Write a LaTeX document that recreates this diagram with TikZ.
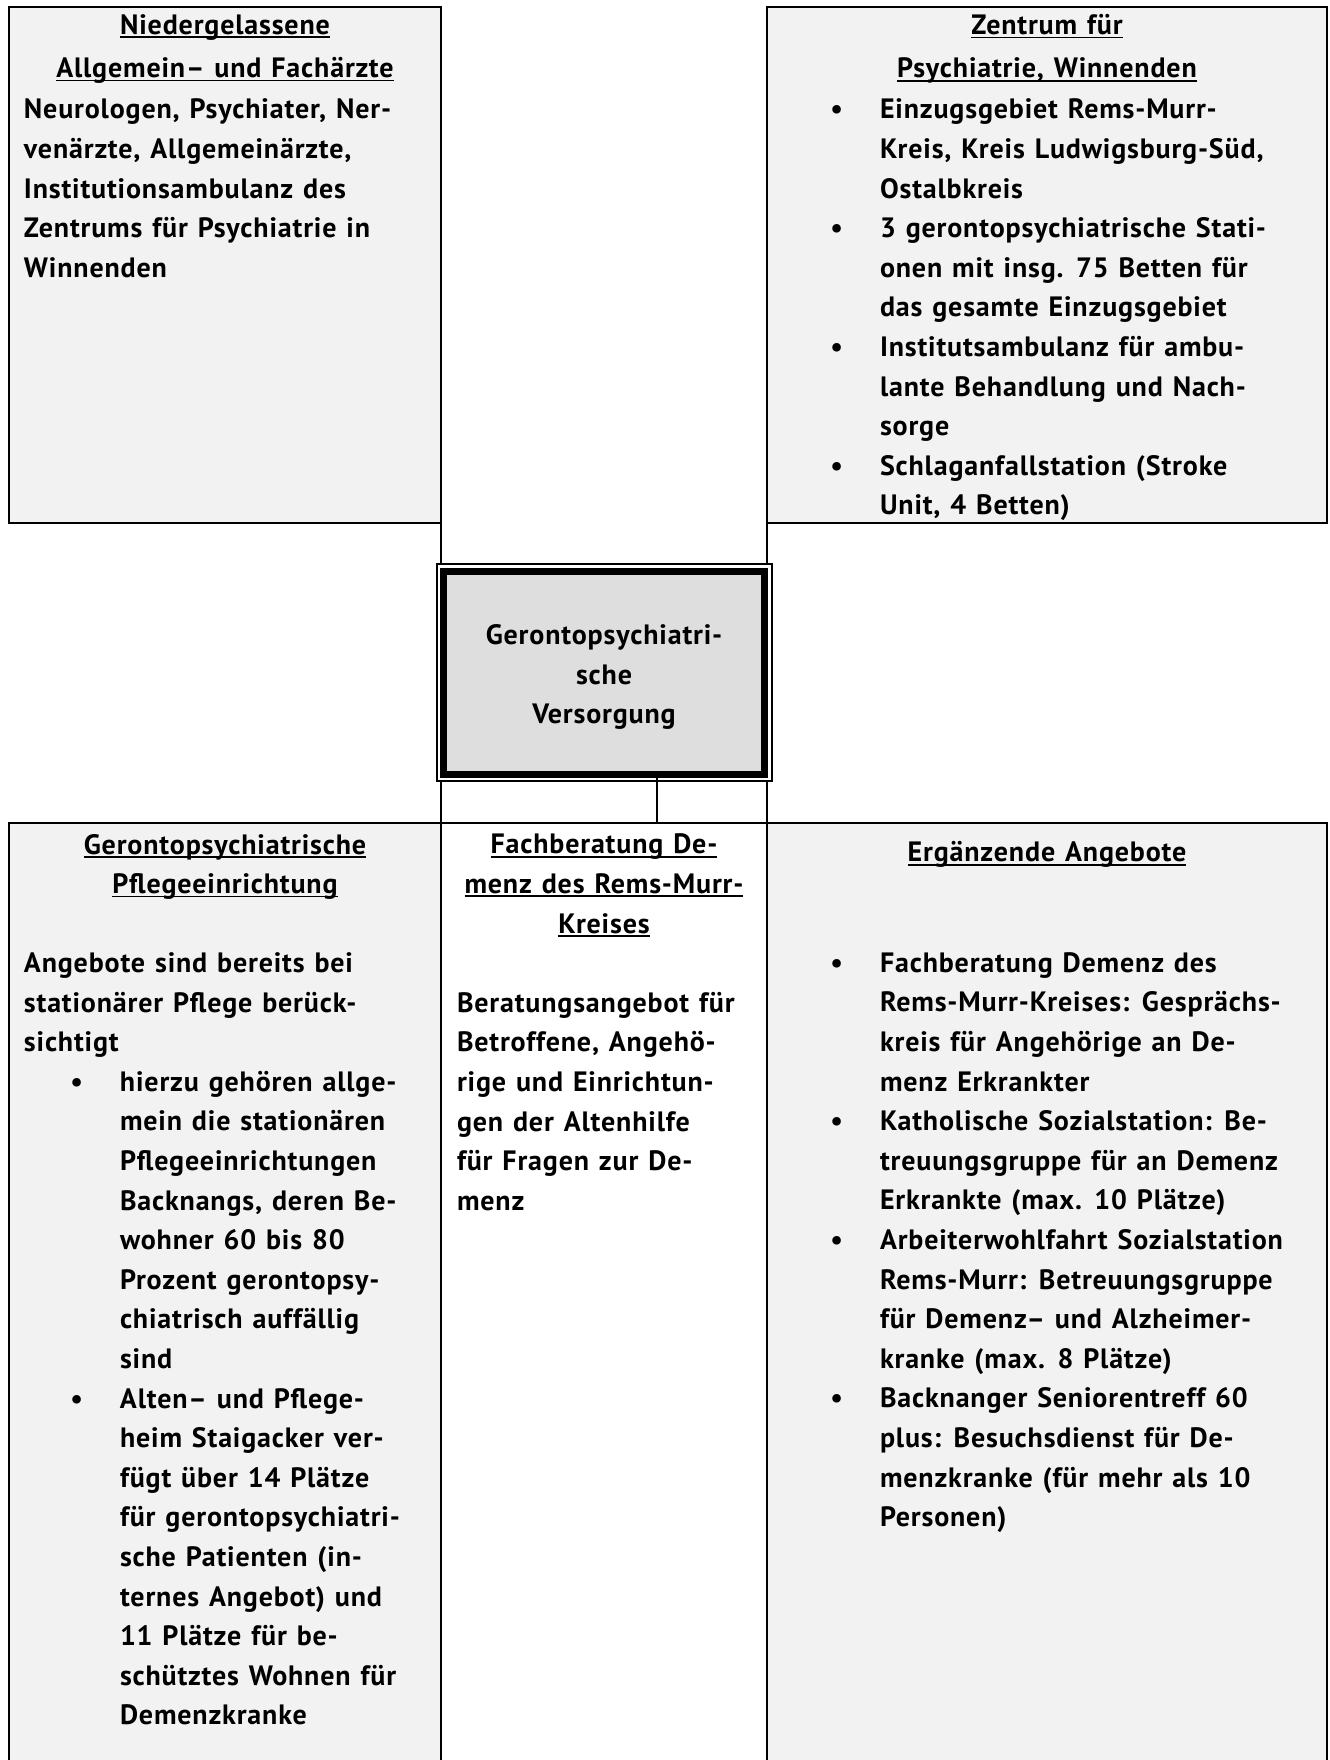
\documentclass[tikz,border=0pt]{standalone}
\usepackage{fontspec}
\IfFontExistsTF{PT Sans Bold}
  {\setmainfont{PT Sans}[BoldFont={PT Sans Bold}, BoldFeatures={LetterSpace=3, WordSpace=1.25}]}
  {\setmainfont{PT Sans}[BoldFont={PT Sans}, BoldFeatures={FakeBold=5, LetterSpace=5, WordSpace=1.25}]}
\definecolor{zellgrau}{HTML}{F2F2F2}
\definecolor{kastengrau}{HTML}{DEDEDE}
\newsavebox{\ulbox}
\newcommand{\ustr}[1]{\sbox{\ulbox}{#1}\rlap{\rule[-1.9pt]{\wd\ulbox}{0.9pt}}\usebox{\ulbox}}
\newcommand{\pkt}{\llap{\textbullet\hspace{18.5pt}}}

\begin{document}
\begin{tikzpicture}[x=0.5pt, y=-0.5pt]
\tikzset{ rahmen/.style={line width=1.1pt, black},
  schrift/.style={inner sep=0pt, outer sep=0pt, font=\fontsize{14}{19.8}\selectfont\bfseries, execute at begin node=\strut},
  titel/.style={schrift, anchor=north, align=center},
  liste/.style={schrift, anchor=north west, align=left},
  zentral/.style={draw=black, line width=3.5pt, fill=kastengrau, inner sep=0pt, outer sep=0pt, minimum width=160.5pt, minimum height=101.5pt},
}

\useasboundingbox (0,0) rectangle (1329,1760);

%%% Zellen

% Niedergelassene Aerzte
\coordinate (NA0) at (9,7);
\coordinate (NA1) at (441,523);
\fill[zellgrau] (NA0) rectangle (NA1);
\draw[rahmen] (NA0) rectangle (NA1);

% Zentrum fuer Psychiatrie
\coordinate (ZP0) at (767,7);
\coordinate (ZP1) at (1327,523);
\fill[zellgrau] (ZP0) rectangle (ZP1);
\draw[rahmen] (ZP0) rectangle (ZP1);

% Pflegeeinrichtung
\coordinate (PE0) at (9,823);
\coordinate (PE1) at (441,1760);
\fill[zellgrau] (PE0) rectangle (PE1);

% Ergaenzende Angebote
\coordinate (EA0) at (767,823);
\coordinate (EA1) at (1327,1760);
\fill[zellgrau] (EA0) rectangle (EA1);

% Linien unten
\draw[rahmen] (PE0 |- PE1) -- (PE0) -- (EA0 -| EA1) -- (EA1);
\draw[rahmen] (NA1) -- (PE1);
\draw[rahmen] (ZP0 |- NA1) -- (EA0 |- EA1);

%%% Mitte

\coordinate (GV0) at (436.5,564);
\coordinate (GV1) at (771.5,781);
\draw[line width=1pt, fill=white] (GV0) rectangle (GV1);
\node[zentral] (GV) at (604,673) {};
\node[schrift, align=center] (GVtext) at (604,680) {Gerontopsychiatri-\\sche\\Versorgung};

% GV -> Fachberatung
\coordinate (FB0) at (657,823);
\draw[rahmen] (GV.south -| FB0) -- (FB0);

%%% Texte

\node[titel] (NAtitel) at (225,14.5) {\ustr{Niedergelassene}\\[1.8pt]\ustr{Allgemein– und Fachärzte}};
\node[liste] (NAtext) at (24,99) {Neurologen, Psychiater, Ner-\\venärzte, Allgemeinärzte,\\Institutionsambulanz des\\Zentrums für Psychiatrie in\\Winnenden};

\node[titel] (ZPtitel) at (1047,14.5) {\ustr{Zentrum für}\\[1.8pt]\ustr{Psychiatrie, Winnenden}};
\node[liste] (ZPtext) at (880,99) {\pkt Einzugsgebiet Rems-Murr-\\Kreis, Kreis Ludwigsburg-Süd,\\Ostalbkreis\\\pkt 3 gerontopsychiatrische Stati-\\onen mit insg. 75 Betten für\\das gesamte Einzugsgebiet\\\pkt Institutsambulanz für ambu-\\lante Behandlung und Nach-\\sorge\\\pkt Schlaganfallstation (Stroke\\Unit, 4 Betten)};

\node[titel] (PEtitel) at (225,834) {\ustr{Gerontopsychiatrische}\\\ustr{Pflegeeinrichtung}};
\node[liste] (PEtext) at (24,952.5) {Angebote sind bereits bei\\stationärer Pflege berück-\\sichtigt};
\node[liste] (PEliste) at (120,1071) {\pkt hierzu gehören allge-\\mein die stationären\\Pflegeeinrichtungen\\Backnangs, deren Be-\\wohner 60 bis 80\\Prozent gerontopsy-\\chiatrisch auffällig\\sind\\\pkt Alten– und Pflege-\\heim Staigacker ver-\\fügt über 14 Plätze\\für gerontopsychiatri-\\sche Patienten (in-\\ternes Angebot) und\\11 Plätze für be-\\schütztes Wohnen für\\Demenzkranke};

\node[titel] (FBtitel) at (604,834) {\ustr{Fachberatung De-}\\\ustr{menz des Rems-Murr-}\\\ustr{Kreises}};
\node[liste] (FBtext) at (457,992) {Beratungsangebot für\\Betroffene, Angehö-\\rige und Einrichtun-\\gen der Altenhilfe\\für Fragen zur De-\\menz};

\node[titel] (EAtitel) at (1047,834) {\ustr{Ergänzende Angebote}};
\node[liste] (EAliste) at (880,952.5) {\pkt Fachberatung Demenz des\\Rems-Murr-Kreises: Gesprächs-\\kreis für Angehörige an De-\\menz Erkrankter\\\pkt Katholische Sozialstation: Be-\\treuungsgruppe für an Demenz\\Erkrankte (max. 10 Plätze)\\\pkt Arbeiterwohlfahrt Sozialstation\\Rems-Murr: Betreuungsgruppe\\für Demenz– und Alzheimer-\\kranke (max. 8 Plätze)\\\pkt Backnanger Seniorentreff 60\\plus: Besuchsdienst für De-\\menzkranke (für mehr als 10\\Personen)};

\end{tikzpicture}
\end{document}
